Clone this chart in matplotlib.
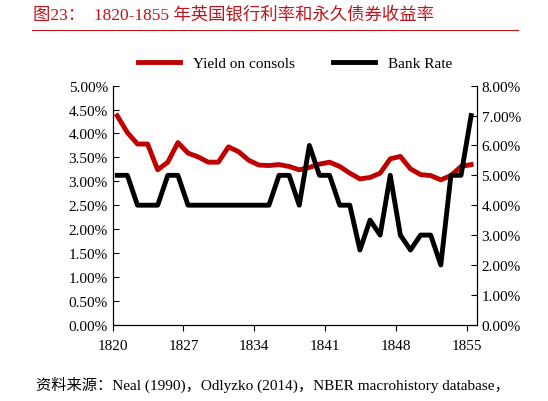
import matplotlib
matplotlib.use("Agg")
import matplotlib.pyplot as plt
from matplotlib.ticker import FuncFormatter

years = list(range(1820, 1856))
consols = [4.37,4.02,3.78,3.78,3.24,3.40,3.81,3.59,3.51,3.40,3.40,3.72,3.62,3.44,3.34,3.33,3.35,3.31,
           3.24,3.29,3.36,3.40,3.31,3.17,3.05,3.08,3.17,3.47,3.52,3.26,3.14,3.12,3.03,3.12,3.31,3.35]
bank = [5,5,4,4,4,5,5,4,4,4,4,4,4,4,4,4,5,5,4,6,5,5,4,4,2.5,3.5,3,5,3,2.5,3,3,2,5,5,7]
xticks = [1820, 1827, 1834, 1841, 1848, 1855]

fam = ['Liberation Serif', 'Noto Sans CJK SC']
plt.rcParams['font.family'] = fam
W, H = 548, 402
fig = plt.figure(figsize=(W/100, H/100), dpi=100)
ax = fig.add_axes([112.7/W, 1-325.7/H, 364/W, 239/H])
ax2 = ax.twinx()
xs = [y + 0.45 for y in years]
l1, = ax.plot(xs, consols, color='#C00000', lw=3.5)
l2, = ax2.plot(xs, bank, color='black', lw=3.5)
ax.set_xlim(1820, 1856)
ax.set_xticks(xticks)
ax.set_ylim(0, 5)
ax.set_yticks([i*0.5 for i in range(11)])
ax2.set_ylim(0, 8)
ax2.set_yticks(range(9))
ax.yaxis.set_major_formatter(FuncFormatter(lambda v, p: f"{v:.2f}%"))
ax2.yaxis.set_major_formatter(FuncFormatter(lambda v, p: f"{v:.2f}%"))
for a in (ax, ax2):
    a.spines['top'].set_visible(False)
    a.tick_params(labelsize=11, direction='in', length=4)
ax.tick_params(axis='x', direction='out', pad=6)
ax.legend([l1, l2], ['Yield on consols', 'Bank Rate'], loc='lower center', bbox_to_anchor=(0.5, 1.0),
          ncol=2, frameon=False, fontsize=11, handlelength=2.8, columnspacing=2.5, borderaxespad=0.6)
fig.text(33/W, 1-15/H, '图23：  1820-1855 年英国银行利率和永久债券收益率', color='#C0141C', fontsize=12.5,
         va='center', family=fam)
fig.add_artist(plt.Line2D([32/W, 518/W], [1-31/H, 1-31/H], color='#C0141C', lw=0.8))
fig.text(0.065, 1-385/H, '资料来源：Neal (1990)，Odlyzko (2014)，NBER macrohistory database，', fontsize=11,
         va='center', family=fam)
fig.savefig('out.png', dpi=100)
